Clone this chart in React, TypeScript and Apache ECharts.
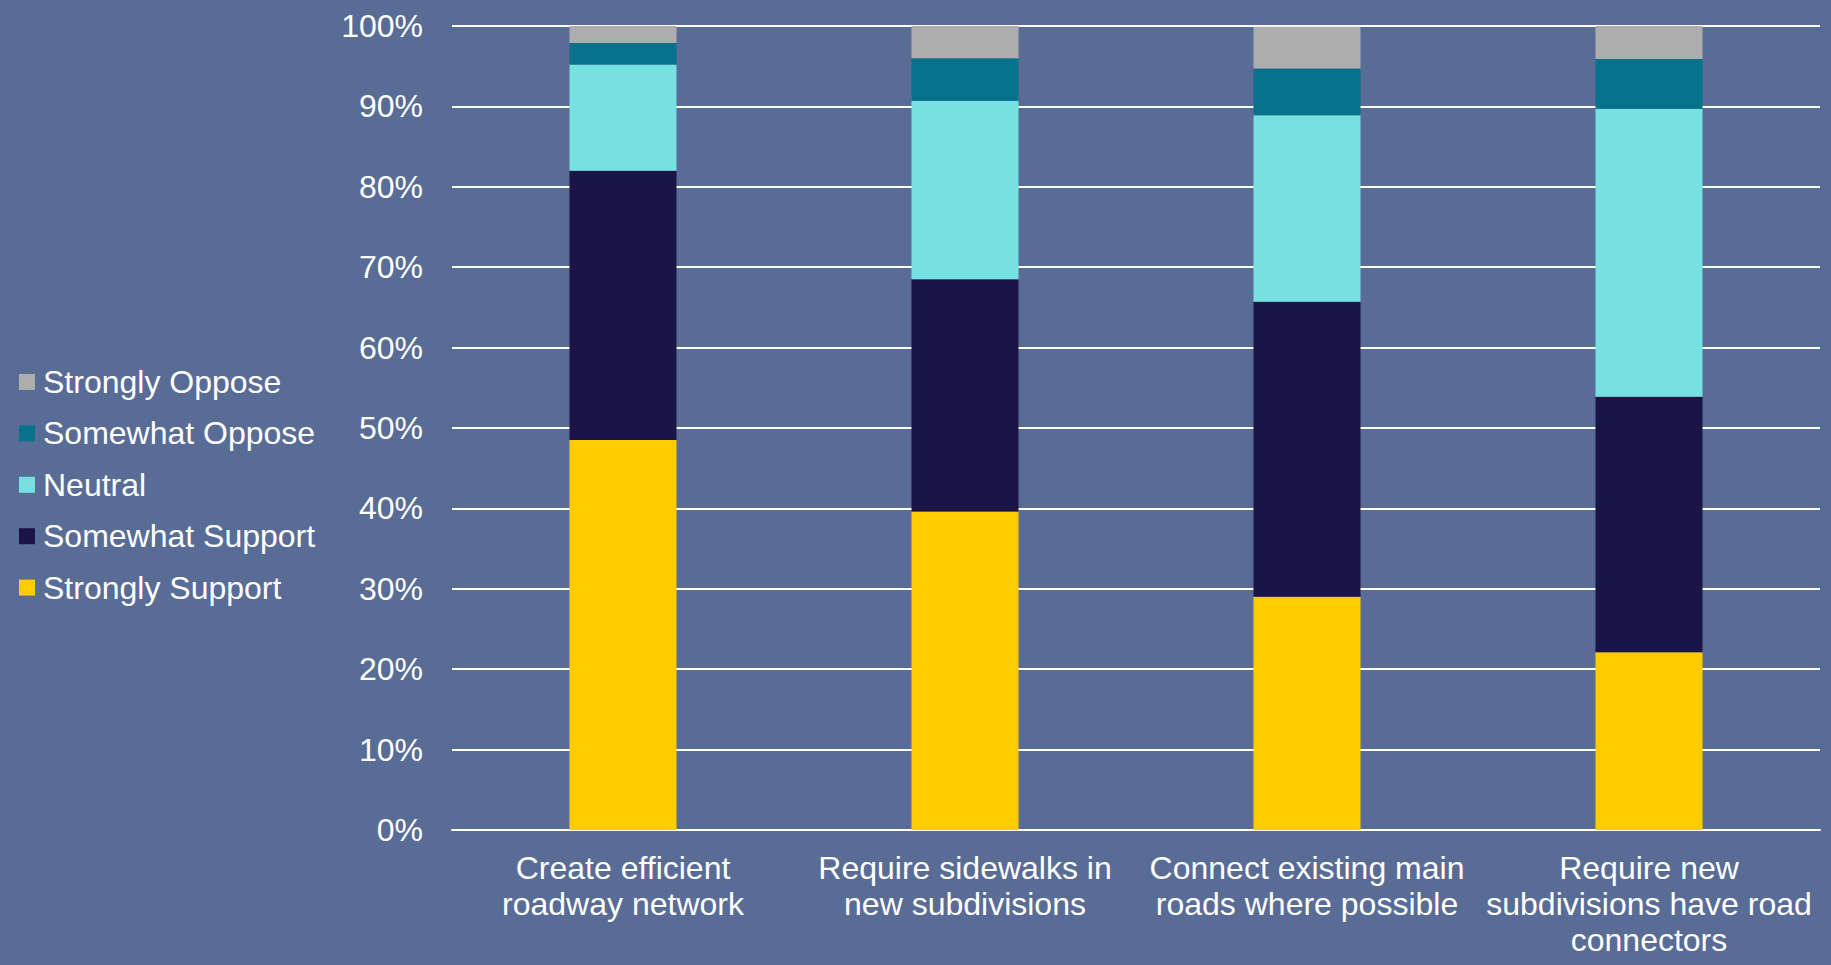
import React, { useEffect, useRef } from "react";
import * as echarts from "echarts";

const categories = [
  "Create efficient\nroadway network",
  "Require sidewalks in\nnew subdivisions",
  "Connect existing main\nroads where possible",
  "Require new\nsubdivisions have road\nconnectors",
];
const strongSupport = [48.5, 39.6, 29.0, 22.1];
const somewhatSupport = [33.5, 28.9, 36.7, 31.8];
const neutral = [13.2, 22.2, 23.2, 35.8];
const somewhatOppose = [2.7, 5.3, 5.8, 6.2];
const strongOppose = [2.1, 4.0, 5.2, 4.1];

const seriesNames = ["Strongly Support", "Somewhat Support", "Neutral", "Somewhat Oppose", "Strongly Oppose"];
const seriesValues = [strongSupport, somewhatSupport, neutral, somewhatOppose, strongOppose];
const seriesColors = ["#FFCC00", "#1B1446", "#77E1E1", "#07728C", "#ADADAD"];
const yTicks = [0, 10, 20, 30, 40, 50, 60, 70, 80, 90, 100];

const FONT = "'Liberation Sans', Arial, sans-serif";

export default function App() {
  const ref = useRef<HTMLDivElement>(null);
  useEffect(() => {
    if (!ref.current) return;
    const chart = echarts.init(ref.current, undefined, { renderer: "svg" });
    chart.setOption({
      animation: false,
      backgroundColor: "#596C96",
      textStyle: { fontFamily: FONT },
      legend: {
        orient: "vertical",
        left: 19,
        top: 366,
        padding: 0,
        itemWidth: 16,
        itemHeight: 16,
        itemGap: 19.4,
        icon: "rect",
        data: [...seriesNames].reverse(),
        textStyle: { color: "#FFFFFF", fontSize: 32, fontFamily: FONT, lineHeight: 32, padding: [0, 0, 0, 3] },
      },
      grid: { left: 452, right: 11, top: 26, bottom: 135, containLabel: false },
      xAxis: {
        type: "category",
        data: categories,
        axisLine: { lineStyle: { color: "#FFFFFF", width: 2 } },
        axisTick: { show: false },
        axisLabel: {
          color: "#FFFFFF",
          fontSize: 32,
          fontFamily: FONT,
          lineHeight: 36,
          margin: 20,
          interval: 0,
        },
      },
      yAxis: {
        type: "value",
        min: yTicks[0],
        max: yTicks[yTicks.length - 1],
        interval: 10,
        axisLine: { show: false },
        axisTick: { show: false },
        splitLine: { lineStyle: { color: "#FFFFFF", width: 2 } },
        axisLabel: {
          color: "#FFFFFF",
          fontSize: 32,
          fontFamily: FONT,
          margin: 29,
          formatter: "{value}%",
        },
      },
      series: seriesNames.map((name, i) => ({
        name,
        type: "bar",
        stack: "total",
        barWidth: "31.3%",
        data: seriesValues[i],
        itemStyle: { color: seriesColors[i] },
      })),
    });
    return () => chart.dispose();
  }, []);
  return (
    <div
      ref={ref}
      style={{ position: "absolute", left: 0, top: 0, width: 1831, height: 965 }}
    />
  );
}
